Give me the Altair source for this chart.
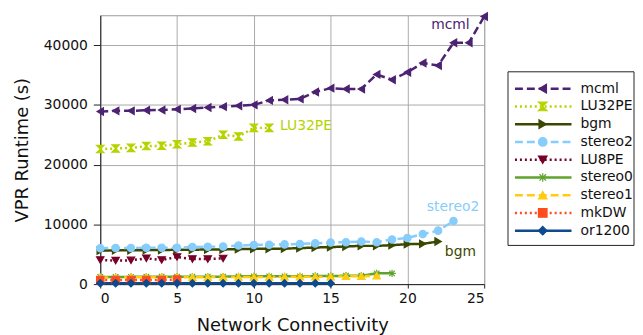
import altair as alt
import pandas as pd

# ---- data ----
series_names = ["mcml", "LU32PE", "bgm", "stereo2", "LU8PE", "stereo0", "stereo1", "mkDW", "or1200"]
series_colors = ["#4c2272", "#b6d300", "#3b4800", "#87cdfc", "#780028", "#5ea32b", "#ffcc11", "#ff4c1f", "#0d4a8e"]

mcml = [28900, 29000, 29000, 29100, 29150, 29250, 29400, 29550, 29700, 29850, 30000, 30750, 30850,
        31000, 32150, 32800, 32650, 32650, 35100, 34200, 35450, 37000, 36600, 40400, 40400, 44800]
LU32PE = [22600, 22700, 22800, 23100, 23150, 23400, 23700, 23900, 25000, 24700, 26150, 26150]
bgm = [5600, 5650, 5650, 5700, 5700, 5750, 5750, 5800, 5800, 5850, 5900, 5900, 5950,
       6020, 6130, 6190, 6300, 6400, 6400, 6520, 6690, 6740, 7130]
stereo2 = [6000, 6050, 6050, 6100, 6100, 6100, 6200, 6250, 6300, 6450, 6550, 6600, 6650,
           6720, 6820, 6960, 7020, 7130, 7020, 7480, 7730, 8370, 8950, 10550]
LU8PE = [4050, 3930, 3980, 4320, 4040, 4540, 4200, 4200, 4300]
stereo0 = [1200, 1200, 1200, 1250, 1250, 1250, 1250, 1250, 1250, 1300, 1300, 1300, 1300, 1300,
           1350, 1350, 1400, 1400, 1800, 1800]
stereo1 = [1100, 1100, 1150, 1150, 1150, 1150, 1150, 1150, 1200, 1200, 1200, 1200, 1250, 1250,
           1250, 1250, 1300, 1300, 1400]
mkDW = [700, 700, 700, 700, 700, 750]
or1200 = [150, 150, 150, 150, 150, 150, 150, 150, 150, 150, 150, 150, 150, 150, 150, 150]

series_values = [mcml, LU32PE, bgm, stereo2, LU8PE, stereo0, stereo1, mkDW, or1200]

# inline labels (data coordinates)
label_text = ["mcml", "LU32PE", "stereo2", "bgm"]
label_x = [22.8, 11.7, 22.97, 23.45]
label_y = [43300, 26400, 12950, 5300]
label_color = ["#4c2272", "#b6d300", "#87cdfc", "#3b4800"]
label_align = ["center", "left", "center", "center"]

x_ticks = [0, 5, 10, 15, 20, 25]
y_ticks = [0, 10000, 20000, 30000, 40000]

# ---- styles ----
hourglass = "M-1,-1L1,-1L0,0L1,1L-1,1L0,0Z"
asterisk = "M0,-1L0,1M-1,0L1,0M-0.75,-0.75L0.75,0.75M-0.75,0.75L0.75,-0.75"
shapes = ["triangle-left", hourglass, "triangle-right", "circle", "triangle-down",
          asterisk, "triangle-up", "square", "diamond"]
dashes = [[8, 4], [2, 3], [1, 0], [8, 4], [2, 3], [1, 0], [8, 4], [2, 3], [1, 0]]

rows = []
for name, vals in zip(series_names, series_values):
    for i, v in enumerate(vals):
        rows.append({"series": name, "x": i, "y": v})
df = pd.DataFrame(rows)

color_scale = alt.Scale(domain=series_names, range=series_colors)
shape_scale = alt.Scale(domain=series_names, range=shapes)
dash_scale = alt.Scale(domain=series_names, range=dashes)

W, H = 387, 271
xs = alt.Scale(domain=[0, 25], nice=False, zero=False)
ys = alt.Scale(domain=[0, 45000], nice=False)

x_enc = alt.X("x:Q", scale=xs, title="Network Connectivity",
              axis=alt.Axis(values=x_ticks, grid=True, tickSize=4, labelPadding=4,
                            titlePadding=11, domainColor="#222", tickColor="#222"))
y_enc = alt.Y("y:Q", scale=ys, title="VPR Runtime (s)",
              axis=alt.Axis(values=y_ticks, format="d", grid=True, tickSize=7, labelPadding=6,
                            titlePadding=12, domainColor="#222", tickColor="#222"))

base = alt.Chart(df)
lines = base.mark_line(strokeWidth=2.5, clip=False).encode(
    x=x_enc, y=y_enc,
    color=alt.Color("series:N", scale=color_scale, legend=None),
    strokeDash=alt.StrokeDash("series:N", scale=dash_scale, legend=None),
    order="x:Q",
)
points = base.mark_point(filled=True, size=55, opacity=1, strokeWidth=1.2, clip=False).encode(
    x="x:Q", y="y:Q",
    color=alt.Color("series:N", scale=color_scale, legend=None),
    stroke=alt.Stroke("series:N", scale=color_scale, legend=None),
    shape=alt.Shape("series:N", scale=shape_scale, legend=None),
)

lab_df = pd.DataFrame({"t": label_text, "x": label_x, "y": label_y, "c": label_color, "a": label_align})
labels = alt.layer(*[
    alt.Chart(lab_df[lab_df["a"] == a]).mark_text(align=a, baseline="middle", fontSize=14,
                                                   font="DejaVu Sans").encode(
        x="x:Q", y="y:Q", text="t:N", color=alt.Color("c:N", scale=None))
    for a in ["center", "left"]
])

main = alt.layer(lines, points, labels).properties(width=W, height=H)

# ---- legend panel ----
leg_df = pd.DataFrame({"series": series_names, "row": list(range(len(series_names)))})
row_step = 17.9
first_row = 74
leg_y = alt.Y("row:Q", axis=None,
              scale=alt.Scale(domain=[-first_row / row_step, (H - first_row) / row_step],
                              reverse=True, nice=False, zero=False))
leg_base = alt.Chart(leg_df)
box = alt.Chart(pd.DataFrame({"b": [0]})).mark_rect(fill="white", stroke="#222", strokeWidth=1).encode(
    x=alt.value(0), x2=alt.value(127), y=alt.value(57), y2=alt.value(232))
leg_lines = leg_base.mark_rule(strokeWidth=2.5).encode(
    x=alt.value(7), x2=alt.value(64), y=leg_y,
    color=alt.Color("series:N", scale=color_scale, legend=None),
    strokeDash=alt.StrokeDash("series:N", scale=dash_scale, legend=None),
)
leg_pts = leg_base.mark_point(filled=True, size=75, opacity=1, strokeWidth=1.2).encode(
    x=alt.value(35), y=leg_y,
    color=alt.Color("series:N", scale=color_scale, legend=None),
    stroke=alt.Stroke("series:N", scale=color_scale, legend=None),
    shape=alt.Shape("series:N", scale=shape_scale, legend=None),
)
leg_txt = leg_base.mark_text(align="left", baseline="middle", fontSize=14, font="DejaVu Sans",
                             color="#111").encode(x=alt.value(73), y=leg_y, text="series:N")
legend = alt.layer(box, leg_lines, leg_pts, leg_txt).properties(
    width=127, height=H, view=alt.ViewBackground(stroke="transparent"))

chart = alt.hconcat(main, legend, spacing=24, bounds="flush").properties(
    padding={"left": 4, "top": 0, "right": 0, "bottom": 0}
).configure_axis(
    labelFont="DejaVu Sans", titleFont="DejaVu Sans", labelFontSize=14, titleFontSize=18,
    titleFontWeight="normal", labelColor="#111", titleColor="#111",
    gridColor="#aaaaaa", gridWidth=1, gridOpacity=1,
).configure_view(stroke="#999999", strokeWidth=1)

chart.save("out.html", embed_options={"renderer": "svg", "actions": False})
